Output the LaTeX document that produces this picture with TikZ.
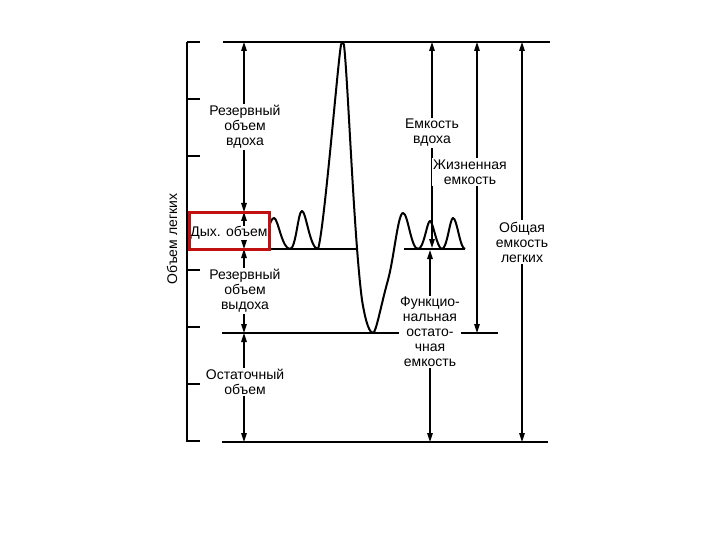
\documentclass[tikz,border=0pt]{standalone}
\usepackage{fontspec}
\setmainfont{Liberation Sans}
\usetikzlibrary{arrows.meta}
\definecolor{boxred}{RGB}{192,16,16}
\tikzset{
  lvl/.style={line width=2.2pt},
  axisline/.style={line width=2pt},
  tick/.style={line width=1.6pt},
  curve/.style={line width=2pt, line join=round},
  dim/.style={line width=1.5pt, {Triangle[length=9pt,width=5.5pt]}-{Triangle[length=9pt,width=5.5pt]}},
  lbl/.style={fill=white, inner sep=1.5pt, align=center, font=\fontsize{14}{15}\selectfont},
}
\begin{document}
\begin{tikzpicture}[x=1pt,y=-1pt]
\useasboundingbox (0,0) rectangle (720,540);
% axis
\draw[axisline] (187,42) -- (187,442);
\foreach \yy in {42,99,156,213,270,327,384,441}{
  \draw[tick] (187,\yy) -- (200,\yy);
}
% coordinates
\coordinate (tl) at (223,42);  \coordinate (tr) at (550,42);
\coordinate (bl1) at (268,249); \coordinate (br1) at (357,249);
\coordinate (bl2) at (404,249); \coordinate (br2) at (465,249);
\coordinate (el) at (222,333); \coordinate (er) at (498,333);
\coordinate (rl) at (222,442); \coordinate (rr) at (548,442);
% level lines
\draw[lvl] (tl) -- (tr);
\draw[lvl] (bl1) -- (br1);
\draw[lvl] (bl2) -- (br2);
\draw[lvl] (el) -- (er);
\draw[lvl] (rl) -- (rr);
% spirogram
\draw[curve] (268,232) .. controls (270,222) and (272,218) .. (274,218)
  .. controls (278,218) and (282,249) .. (290,249)
  .. controls (296,249) and (298,211) .. (302,211)
  .. controls (306,211) and (310,249) .. (318,249)
  .. controls (324,232) and (338,60) .. (341,45)
  .. controls (342,41) and (343,41) .. (344,45)
  .. controls (348,80) and (354,240) .. (362,300)
  .. controls (366,325) and (370,333) .. (373,333)
  .. controls (376,333) and (381,305) .. (388,280)
  .. controls (394,258) and (398,213) .. (403,213)
  .. controls (408,213) and (411,249) .. (418,249)
  .. controls (424,249) and (427,221) .. (430,221)
  .. controls (433,221) and (437,249) .. (442,249)
  .. controls (447,249) and (450,218) .. (453,218)
  .. controls (457,218) and (460,249) .. (465,249);
% dimension arrows
\coordinate (a1) at (244,42);  \coordinate (a2) at (244,212);
\coordinate (a3) at (244,249); \coordinate (a4) at (244,333);
\coordinate (a5) at (244,442);
\draw[dim] (a1) -- (a2);
\draw[dim] (a2) -- (a3);
\draw[dim] (a3) -- (a4);
\draw[dim] (a4) -- (a5);
\coordinate (ic1) at (432,42);  \coordinate (ic2) at (432,248);
\coordinate (vc1) at (477,42);  \coordinate (vc2) at (477,333);
\coordinate (tc1) at (522,42);  \coordinate (tc2) at (522,442);
\coordinate (fr1) at (430,250); \coordinate (fr2) at (430,442);
\draw[dim] (ic1) -- (ic2);
\draw[dim] (vc1) -- (vc2);
\draw[dim] (tc1) -- (tc2);
\draw[dim] (fr1) -- (fr2);
% labels
\node[lbl] (irv) at (245,127) {Резервный\\объем\\вдоха};
\node[lbl, inner sep=0.3pt] (vt) at (229,233) {Дых. объем};
\node[lbl] (erv) at (245,291) {Резервный\\объем\\выдоха};
\node[lbl] (rv) at (245,382) {Остаточный\\объем};
\node[lbl] (ic) at (432,133) {Емкость\\вдоха};
\node[lbl] (vc) at (470,172) {Жизненная\\емкость};
\node[lbl] (tlc) at (522,242) {Общая\\емкость\\легких};
\node[lbl] (frc) at (430,332) {Функцио-\\нальная\\остато-\\чная\\емкость};
\node[lbl, fill=none, rotate=90] (ylab) at (172,239) {Объем легких};
% red highlight box
\node[draw=boxred, line width=3pt, minimum width=80pt, minimum height=37pt, inner sep=0pt] (hl) at (229,231) {};
\end{tikzpicture}
\end{document}
